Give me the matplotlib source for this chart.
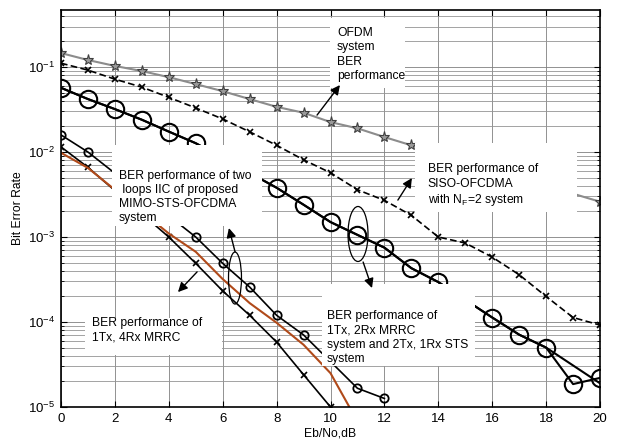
import numpy as np
import matplotlib
matplotlib.use('Agg')
import matplotlib.pyplot as plt
from matplotlib.patches import Rectangle, Ellipse

plt.rcParams['font.family'] = ['Liberation Sans', 'DejaVu Sans']
plt.rcParams['mathtext.fontset'] = 'custom'
plt.rcParams['mathtext.rm'] = 'Liberation Sans'
plt.rcParams['mathtext.it'] = 'Liberation Sans:italic'

# OFDM system (grey, stars) - the middle part is hidden behind a label box
x_ofdm = [0, 1, 2, 3, 4, 5, 6, 7, 8, 9, 10, 11, 12, 13, 20]
ber_ofdm = [0.146, 0.121, 0.103, 0.0897, 0.076, 0.063, 0.052, 0.042, 0.034,
            0.029, 0.0225, 0.019, 0.015, 0.012, 0.0026]

# SISO-OFCDMA, N_F=2 (dashed)
x_siso = list(range(21))
ber_siso = [0.111, 0.092, 0.072, 0.058, 0.044, 0.033, 0.0245, 0.0173, 0.012,
            0.0081, 0.0057, 0.0036, 0.0027, 0.0018, 0.001, 0.00085, 0.00058,
            0.00036, 0.0002, 0.000113, 0.000092]

# 1Tx,2Rx MRRC and 2Tx,1Rx STS (big circles, two overlapping curves)
x_mrrc = [0, 1, 2, 3, 4, 5, 8, 9, 10, 11, 12, 13, 14, 16, 17, 18, 19, 20]
ber_mrrc = [0.057, 0.042, 0.032, 0.024, 0.0174, 0.0127, 0.0038, 0.0024,
            0.0015, 0.00106, 0.00075, 0.00043, 0.000295, 0.000113, 7.1e-5,
            5e-5, 1.86e-5, 2.2e-5]
x_sts = [0, 1, 2, 3, 4, 5, 8, 9, 10, 11, 12, 13, 14, 16, 17, 18, 20]
ber_sts = [0.057, 0.042, 0.032, 0.024, 0.0174, 0.0127, 0.0038, 0.0024,
           0.0015, 0.00106, 0.00075, 0.00043, 0.000295, 0.000113, 7.1e-5,
           5e-5, 1.9e-5]

# small circles
x_two = [0, 1, 5, 6, 7, 8, 9, 11, 12]
ber_two = [0.0159, 0.01, 0.001, 0.00049, 0.000258, 0.00012, 7.05e-5,
           1.66e-5, 1.26e-5]

# 1Tx, 4Rx MRRC (x markers)
x_4rx = [0, 1, 4, 5, 6, 7, 8, 9, 10]
ber_4rx = [0.0115, 0.0066, 0.001, 0.00049, 0.000232, 0.00012, 5.8e-5,
           2.4e-5, 1e-5]

# two loops IIC of proposed MIMO-STS-OFCDMA (brown)
x_iic = [0, 1, 4, 5, 6, 7, 8, 9, 10, 10.7]
ber_iic = [0.0098, 0.0065, 0.0011, 0.00067, 0.00032, 0.000167, 9.8e-5,
           5.4e-5, 2.5e-5, 1e-5]

fig = plt.figure(figsize=(6.18, 4.41), dpi=100)
ax = fig.add_axes([0.0987, 0.0771, 0.8722, 0.9002])

ax.plot(x_ofdm, ber_ofdm, '-*', color='#8c8c8c', lw=1.5, ms=8,
        mfc='#9a9a9a', mec='#404040', mew=0.8, zorder=2)
ax.plot(x_siso, ber_siso, '--x', color='black', lw=1.2, ms=5, mew=1.2,
        dashes=(4, 2), zorder=2)
ax.plot(x_sts, ber_sts, '-', color='black', lw=1.5, zorder=2)
ax.plot(x_mrrc, ber_mrrc, '-o', color='black', lw=1.5, ms=12.5, mfc='none',
        mew=1.5, zorder=2)
ax.plot(x_two, ber_two, '-o', color='black', lw=1.2, ms=6, mfc='none',
        mew=1.3, zorder=2)
ax.plot(x_4rx, ber_4rx, '-x', color='black', lw=1.2, ms=5, mew=1.2, zorder=2)
ax.plot(x_iic, ber_iic, '-', color='#b04a1a', lw=1.5, zorder=2)

ax.set_yscale('log')
ax.set_xlim(0, 20)
ax.set_ylim(1e-5, 0.469)
ax.set_xticks(np.arange(0, 21, 2))
ax.grid(True, which='major', color='0.5', lw=0.6)
ax.grid(True, which='minor', axis='y', color='0.58', lw=0.6)
ax.set_axisbelow(True)
ax.tick_params(which='both', direction='in', top=True, right=True,
               labelsize=9.5, pad=4)
ax.tick_params(which='major', length=4)
ax.tick_params(which='minor', length=2.5)
for s in ax.spines.values():
    s.set_linewidth(1.2)

ax.set_xlabel('Eb/No,dB', fontsize=8.7, labelpad=2)
ax.set_ylabel('Bit Error Rate', fontsize=8.7, labelpad=3)

# white label boxes (axes fraction)
boxes = [(0.499, 0.8035, 0.139, 0.177),
         (0.657, 0.491, 0.300, 0.174),
         (0.0946, 0.456, 0.278, 0.204),
         (0.484, 0.103, 0.284, 0.207),
         (0.0445, 0.131, 0.254, 0.093)]
for bx, by, bw, bh in boxes:
    ax.add_patch(Rectangle((bx, by), bw, bh, transform=ax.transAxes,
                           facecolor='white', edgecolor='none', zorder=3))

fs = 8.7
ls = 1.24
ax.text(0.512, 0.888, 'OFDM\nsystem\nBER\nperformance', transform=ax.transAxes,
        fontsize=fs, linespacing=ls, va='center', ha='left', zorder=5)
ax.text(0.680, 0.557, 'BER performance of\nSISO-OFCDMA\nwith N$_\\mathregular{F}$=2 system',
        transform=ax.transAxes, fontsize=fs, linespacing=ls, va='center',
        ha='left', zorder=5)
ax.text(0.1076, 0.529,
        'BER performance of two\n loops IIC of proposed\nMIMO-STS-OFCDMA\nsystem',
        transform=ax.transAxes, fontsize=fs, linespacing=ls, va='center',
        ha='left', zorder=5)
ax.text(0.4935, 0.175,
        'BER performance of\n1Tx, 2Rx MRRC\nsystem and 2Tx, 1Rx STS\nsystem',
        transform=ax.transAxes, fontsize=fs, linespacing=ls, va='center',
        ha='left', zorder=5)
ax.text(0.0575, 0.1927, 'BER performance of\n1Tx, 4Rx MRRC',
        transform=ax.transAxes, fontsize=fs, linespacing=ls, va='center',
        ha='left', zorder=5)

arrows = [((9.50, 0.0272), (10.35, 0.0614)),
          ((12.50, 0.00272), (13.02, 0.00494)),
          ((6.46, 0.000667), (6.23, 0.001276)),
          ((5.05, 0.000389), (4.34, 0.000225)),
          ((11.21, 0.000508), (11.54, 0.000251))]
for tail, head in arrows:
    ax.annotate('', xy=head, xytext=tail,
                arrowprops=dict(arrowstyle='-|>', color='black', lw=1.0,
                                mutation_scale=14, shrinkA=0, shrinkB=0),
                zorder=5)

ax.add_patch(Ellipse((0.3228, 0.3249), 0.0241, 0.131, transform=ax.transAxes,
                     fill=False, edgecolor='black', lw=0.9, zorder=5))
ax.add_patch(Ellipse((0.551, 0.4358), 0.0371, 0.1385, transform=ax.transAxes,
                     fill=False, edgecolor='black', lw=0.9, zorder=5))

fig.savefig('out.png', dpi=100)
